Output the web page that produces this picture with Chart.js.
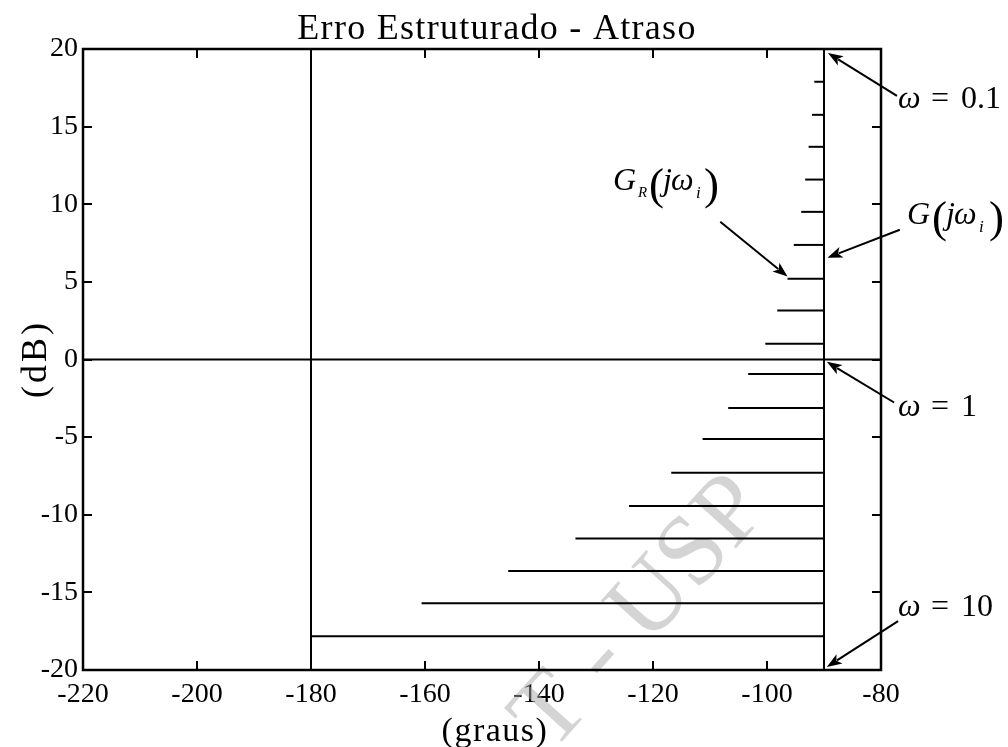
<!DOCTYPE html>
<html><head><meta charset="utf-8">
<script src="https://cdn.jsdelivr.net/npm/chart.js@4.4.0/dist/chart.umd.min.js"></script>
<style>html,body{margin:0;padding:0;background:#fff;}canvas{display:block;}</style>
</head><body>
<canvas id="c" width="1008" height="747"></canvas>
<script>
// ---- data ----
const xTicks = [-220, -200, -180, -160, -140, -120, -100, -80];
const yTicks = [-20, -15, -10, -5, 0, 5, 10, 15, 20];
// |G(jw_i)| levels in dB (one horizontal segment per frequency)
const magDb = [17.89, 15.76, 13.70, 11.59, 9.51, 7.38, 5.20, 3.16, 1.01,
               -0.93, -3.12, -5.12, -7.29, -9.44, -11.53, -13.63, -15.70, -17.83];
// phase of G_R(jw_i) in degrees (left end of each segment)
const phaseR = [-91.7, -92.1, -92.7, -93.3, -94.0, -95.3, -96.4, -98.2, -100.3,
                -103.3, -106.8, -111.3, -116.8, -124.2, -133.6, -145.4, -160.6, -180.0];
// G(jw) : phase -90 deg, magnitude from +20 dB (w=0.1) to -20 dB (w=10)
const gPhase = -90;
const gMagEnds = [20, -20];
// reference lines
const refPhase = -180;
const refDb = 0;

const FONT = '"Liberation Serif", "Times New Roman", serif';

const datasets = [];
const lineStyle = {showLine: true, pointRadius: 0, borderColor: '#000', borderWidth: 2, fill: false};
datasets.push(Object.assign({label: 'ref -180', data: [{x: refPhase, y: yTicks[0]}, {x: refPhase, y: yTicks[yTicks.length-1]}]}, lineStyle));
datasets.push(Object.assign({label: 'ref 0 dB', data: [{x: xTicks[0], y: refDb}, {x: xTicks[xTicks.length-1], y: refDb}]}, lineStyle));
magDb.forEach((m, i) => {
  datasets.push(Object.assign({label: 'seg' + i, data: [{x: phaseR[i], y: m}, {x: gPhase, y: m}]}, lineStyle));
});
datasets.push(Object.assign({label: 'G', data: [gMagEnds[0], ...magDb, gMagEnds[1]].map(m => ({x: gPhase, y: m}))}, lineStyle));

function arrow(ctx, x1, y1, x2, y2) {
  const a = Math.atan2(y2 - y1, x2 - x1);
  const L = 15, W = 5.5;
  ctx.beginPath();
  ctx.moveTo(x1, y1);
  ctx.lineTo(x2 - Math.cos(a) * L * 0.8, y2 - Math.sin(a) * L * 0.8);
  ctx.lineWidth = 2; ctx.strokeStyle = '#000'; ctx.stroke();
  ctx.beginPath();
  ctx.moveTo(x2, y2);
  ctx.lineTo(x2 - Math.cos(a) * L - Math.sin(a) * W, y2 - Math.sin(a) * L + Math.cos(a) * W);
  ctx.lineTo(x2 - Math.cos(a) * L * 0.75, y2 - Math.sin(a) * L * 0.75);
  ctx.lineTo(x2 - Math.cos(a) * L + Math.sin(a) * W, y2 - Math.sin(a) * L - Math.cos(a) * W);
  ctx.closePath(); ctx.fillStyle = '#000'; ctx.fill();
}
function parts(ctx, list) {
  for (const p of list) { ctx.font = p.f; ctx.fillText(p.t, p.x, p.y); }
}

const IT = 'italic 32px ' + FONT, RM = '32px ' + FONT, SUB = 'italic 17px ' + FONT, BIG = '45px ' + FONT;

const deco = {
  id: 'deco',
  beforeDatasetsDraw(chart) {
    const ctx = chart.ctx;
    ctx.save();
    ctx.translate(648, 646);
    ctx.rotate(-48 * Math.PI / 180);
    ctx.font = '100px ' + FONT;
    ctx.fillStyle = 'rgba(170,170,170,0.5)';
    ctx.textAlign = 'left'; ctx.textBaseline = 'alphabetic';
    ctx.fillText('USP', 0, 0);
    ctx.textAlign = 'right';
    ctx.fillText('T - ', 0, 0);
    ctx.restore();
  },
  afterDraw(chart) {
    const ctx = chart.ctx, a = chart.chartArea, xs = chart.scales.x, ys = chart.scales.y;
    ctx.save();
    // frame
    ctx.strokeStyle = '#000'; ctx.lineWidth = 2.5;
    ctx.strokeRect(a.left, a.top, a.right - a.left, a.bottom - a.top);
    // inward ticks on all four sides
    ctx.lineWidth = 2;
    const T = 9;
    ctx.beginPath();
    xs.ticks.forEach(t => {
      const px = Math.round(xs.getPixelForValue(t.value));
      ctx.moveTo(px, a.bottom); ctx.lineTo(px, a.bottom - T);
      ctx.moveTo(px, a.top); ctx.lineTo(px, a.top + T);
    });
    ys.ticks.forEach(t => {
      const py = Math.round(ys.getPixelForValue(t.value));
      ctx.moveTo(a.left, py); ctx.lineTo(a.left + T, py);
      ctx.moveTo(a.right, py); ctx.lineTo(a.right - T, py);
    });
    ctx.stroke();
    // title and axis labels
    ctx.fillStyle = '#000';
    ctx.textBaseline = 'alphabetic';
    ctx.textAlign = 'center';
    ctx.letterSpacing = '1.3px';
    ctx.font = '36px ' + FONT;
    ctx.fillText('Erro Estruturado - Atraso', 497, 39);
    ctx.letterSpacing = '1.5px';
    ctx.font = '34px ' + FONT;
    ctx.fillText('(graus)', 495, 741);
    ctx.save();
    ctx.translate(46, 359);
    ctx.rotate(-Math.PI / 2);
    ctx.letterSpacing = '3px';
    ctx.font = '36px ' + FONT;
    ctx.fillText('(dB)', 0, 0);
    ctx.restore();
    ctx.letterSpacing = '0px';
    ctx.textAlign = 'left';
    // annotation texts
    const omegaLabel = (x, y, val) => parts(ctx, [
      {t: '\u03C9', f: IT, x: x, y: y},
      {t: '=', f: RM, x: x + 33, y: y},
      {t: val, f: RM, x: x + 63, y: y}
    ]);
    omegaLabel(898, 108, '0.1');
    omegaLabel(898, 416, '1');
    omegaLabel(898, 616, '10');
    // G(j w_i)
    parts(ctx, [
      {t: 'G', f: IT, x: 907, y: 224},
      {t: '(', f: BIG, x: 932, y: 232},
      {t: 'j', f: IT, x: 946, y: 224},
      {t: '\u03C9', f: IT, x: 954, y: 224},
      {t: 'i', f: SUB, x: 979, y: 232},
      {t: ')', f: BIG, x: 989, y: 232}
    ]);
    // G_R(j w_i)
    parts(ctx, [
      {t: 'G', f: IT, x: 613, y: 190},
      {t: 'R', f: 'italic 15px ' + FONT, x: 638, y: 197},
      {t: '(', f: BIG, x: 649, y: 199},
      {t: 'j', f: IT, x: 663, y: 190},
      {t: '\u03C9', f: IT, x: 671, y: 190},
      {t: 'i', f: SUB, x: 696, y: 198},
      {t: ')', f: BIG, x: 704, y: 199}
    ]);
    // arrows (data coordinates)
    const P = (x, y) => [xs.getPixelForValue(x), ys.getPixelForValue(y)];
    const ar = (s, e) => { const p1 = P(s[0], s[1]), p2 = P(e[0], e[1]); arrow(ctx, p1[0], p1[1], p2[0], p2[1]); };
    ar([-77.2, 16.98], [-89.3, 19.74]);
    ar([-76.7, 8.36], [-89.4, 6.56]);
    ar([-108.2, 8.87], [-96.4, 5.34]);
    ar([-77.7, -2.77], [-89.5, -0.15]);
    ar([-77.0, -16.85], [-89.5, -19.8]);
    ctx.restore();
  }
};

new Chart(document.getElementById('c'), {
  type: 'scatter',
  data: {datasets},
  options: {
    responsive: false,
    devicePixelRatio: 1,
    animation: false,
    events: [],
    layout: {padding: {left: 0, right: 127, top: 49, bottom: 0}},
    plugins: {legend: {display: false}, title: {display: false}, tooltip: {enabled: false}},
    scales: {
      x: {
        type: 'linear', min: xTicks[0], max: xTicks[xTicks.length - 1],
        afterBuildTicks: s => { s.ticks = xTicks.map(v => ({value: v})); },
        afterFit: s => { s.height = 77; },
        grid: {display: false, drawTicks: false},
        border: {display: false},
        ticks: {color: '#000', font: {family: FONT, size: 28}, padding: 8, maxRotation: 0, autoSkip: false}
      },
      y: {
        type: 'linear', min: yTicks[0], max: yTicks[yTicks.length - 1],
        afterBuildTicks: s => { s.ticks = yTicks.map(v => ({value: v})); },
        afterFit: s => { s.width = 83; },
        grid: {display: false, drawTicks: false},
        border: {display: false},
        ticks: {color: '#000', font: {family: FONT, size: 28}, padding: 5, autoSkip: false}
      }
    }
  },
  plugins: [deco]
});
</script>
</body></html>
